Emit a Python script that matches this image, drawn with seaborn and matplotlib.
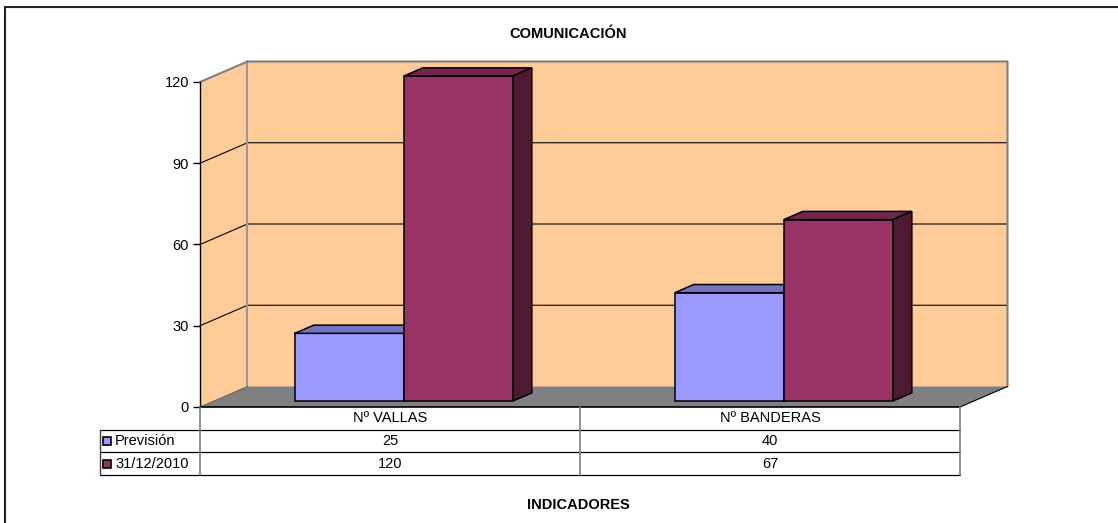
import numpy as np
import pandas as pd
import seaborn as sns
import matplotlib.pyplot as plt
import matplotlib.colors as mcolors
from matplotlib.patches import Polygon
from matplotlib.lines import Line2D
from matplotlib.transforms import Affine2D

# Datos del gráfico
indicadores = ['Nº VALLAS', 'Nº BANDERAS']
series = ['Previsión', '31/12/2010']
prevision = [25, 40]
real_2010 = [120, 67]
colores = ['#9999FF', '#993366']
ticks_y = [0, 30, 60, 90, 120]

titulo = 'COMUNICACIÓN'
titulo_x = 'INDICADORES'

df = pd.DataFrame({
    'indicador': indicadores * 2,
    'serie': [series[0]] * len(indicadores) + [series[1]] * len(indicadores),
    'valor': prevision + real_2010,
})

sns.set_theme(style='white')
plt.rcParams['font.family'] = ['Liberation Sans', 'DejaVu Sans']
plt.rcParams['text.color'] = 'black'
plt.rcParams['ytick.color'] = 'black'

W, H = 1118, 523
fig = plt.figure(figsize=(W / 100, H / 100), dpi=100)
ax = fig.add_axes([200 / W, (H - 407) / H, 760 / W, 325 / H])

# Barras (frente) con seaborn
sns.barplot(data=df, x='indicador', y='valor', hue='serie', order=indicadores,
            hue_order=series, palette=colores, saturation=1, width=0.574,
            edgecolor='black', linewidth=1.1, legend=False, ax=ax)
barras = sorted(list(ax.patches), key=lambda p: p.get_x())

ymax = ticks_y[-1]
x0, x1 = -0.5, len(indicadores) - 0.5
ax.set_xlim(x0, x1)
ax.set_ylim(0, ymax)

# profundidad del efecto 3D en unidades de datos
px_x = 760 / len(indicadores)
px_y = 325 / ymax
prof_x = 47.5 / px_x
prof_y = 20.5 / px_y
f0, fb = 0.29, 0.40

# paredes y suelo
pared = '#FFCC99'
ax.add_patch(Polygon([(x0 + prof_x, prof_y), (x1 + prof_x, prof_y),
                      (x1 + prof_x, ymax + prof_y), (x0 + prof_x, ymax + prof_y)],
                     closed=True, fc=pared, ec='none', zorder=0.5, clip_on=False))
ax.add_patch(Polygon([(x0, 0), (x0 + prof_x, prof_y), (x0 + prof_x, ymax + prof_y),
                      (x0, ymax)], closed=True, fc=pared, ec='none', zorder=0.5,
                     clip_on=False))
ax.add_patch(Polygon([(x0, 0), (x1, 0), (x1 + prof_x, prof_y), (x0 + prof_x, prof_y)],
                     closed=True, fc='#808080', ec='none', zorder=0.6, clip_on=False))

for v in ticks_y[1:-1]:
    ax.plot([x0, x0 + prof_x, x1 + prof_x], [v, v + prof_y, v + prof_y],
            color='black', lw=0.8, zorder=0.7, clip_on=False)
ax.plot([x0, x0 + prof_x, x1 + prof_x, x1 + prof_x],
        [ymax, ymax + prof_y, ymax + prof_y, prof_y],
        color='#808080', lw=1.5, zorder=0.8, clip_on=False)
ax.plot([x0 + prof_x, x0 + prof_x], [prof_y, ymax + prof_y],
        color='#999999', lw=1.5, zorder=0.7, clip_on=False)
ax.plot([x1, x1 + prof_x], [0, prof_y], color='black', lw=0.8, zorder=0.8, clip_on=False)
ax.plot([x0, x0 + prof_x], [0, prof_y], color='#555555', lw=0.6, zorder=0.8, clip_on=False)

# caras superior y lateral de cada barra
for i, p in enumerate(barras):
    tr = Affine2D().translate(f0 * prof_x, f0 * prof_y) + ax.transData
    p.set_transform(tr)
    p.set_zorder(2 + i)
    p.set_clip_on(False)
    xa, w, h = p.get_x(), p.get_width(), p.get_height()
    xb = xa + w
    bx, by = fb * prof_x, fb * prof_y
    c = np.array(mcolors.to_rgb(p.get_facecolor()))
    ax.add_patch(Polygon([(xa, h), (xb, h), (xb + bx, h + by), (xa + bx, h + by)],
                         closed=True, fc=c * 0.75, ec='black', lw=1.1,
                         transform=tr, zorder=2 + i, clip_on=False))
    ax.add_patch(Polygon([(xb, 0), (xb + bx, by), (xb + bx, h + by), (xb, h)],
                         closed=True, fc=c * 0.5, ec='black', lw=1.1,
                         transform=tr, zorder=2 + i, clip_on=False))

ax.patch.set_visible(False)
ax.set_xticks([])
ax.set_xlabel('')
ax.set_ylabel('')
ax.set_yticks(ticks_y)
ax.tick_params(axis='y', left=True, length=5, width=1, color='black', pad=3,
               labelsize=10.5, labelcolor='black')
for lado in ['top', 'right', 'bottom']:
    ax.spines[lado].set_visible(False)
ax.spines['left'].set_color('black')
ax.spines['left'].set_linewidth(1.0)

# Tabla de datos
tab = fig.add_axes([100 / W, (H - 475) / H, 860 / W, 68 / H])
ancho_ley = 100 / px_x
tab.set_xlim(x0 - ancho_ley, x1)
tab.set_ylim(0, 3)
tab.axis('off')
filas = [prevision, real_2010]
for j, nombre in enumerate(indicadores):
    tab.text(j, 2.5, nombre, ha='center', va='center', fontsize=10.5)
    for k, fila in enumerate(filas):
        tab.text(j, 1.5 - k, str(fila[j]), ha='center', va='center', fontsize=10.5)
for k, (s, col) in enumerate(zip(series, colores)):
    tab.plot(x0 - ancho_ley + 7 / px_x, 1.5 - k, marker='s', ms=6, mfc=col,
             mec='black', mew=1.2, clip_on=False)
    tab.text(x0 - ancho_ley + 15 / px_x, 1.5 - k, s, ha='left', va='center',
             fontsize=10.5)
for yv in [0, 1, 2]:
    tab.plot([x0 - ancho_ley, x1], [yv, yv], color='black', lw=0.9, clip_on=False)
tab.plot([x0, x1], [3, 3], color='black', lw=1.2, clip_on=False)
tab.plot([x0 - ancho_ley] * 2, [0, 2], color='#404040', lw=1.0, clip_on=False)
for xv in [x0] + [j + 0.5 for j in range(len(indicadores))]:
    tab.plot([xv, xv], [0, 3], color='#808080', lw=1.2, clip_on=False)

# Títulos
fig.text(568 / W, 1 - 34 / H, titulo, ha='center', va='center', fontsize=10.5,
         fontweight='bold')
fig.text(578 / W, 1 - 505 / H, titulo_x, ha='center', va='center', fontsize=10.5,
         fontweight='bold')

# Borde del área del gráfico
fig.add_artist(Line2D([5 / W, 1], [1 - 7 / H] * 2, transform=fig.transFigure,
                      color='#222222', lw=1.5))
fig.add_artist(Line2D([5 / W] * 2, [0, 1 - 7 / H], transform=fig.transFigure,
                      color='#222222', lw=1.5))

fig.savefig('out.png', dpi=100, facecolor='white')
